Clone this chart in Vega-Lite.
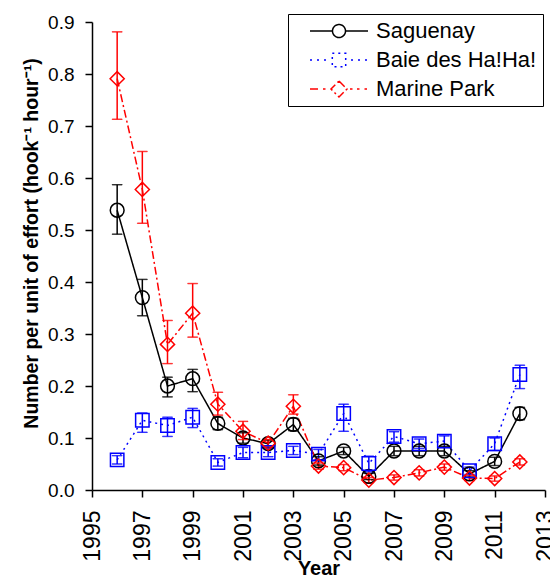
{
  "$schema": "https://vega.github.io/schema/vega-lite/v6.json",
  "width": 453,
  "height": 468,
  "autosize": "none",
  "padding": {"left": 92, "top": 22, "right": 5, "bottom": 89},
  "background": "white",
  "config": {
    "view": {"stroke": null},
    "font": "Liberation Sans",
    "axis": {
      "grid": false,
      "domainColor": "black",
      "domainWidth": 1.5,
      "tickColor": "black",
      "tickWidth": 1.5,
      "tickSize": 7,
      "labelColor": "black",
      "titleColor": "black",
      "labelFont": "Liberation Sans",
      "titleFont": "Liberation Sans",
      "titleFontWeight": "bold"
    }
  },
  "data": {
    "values": [
      {"site": "Saguenay", "year": 1996, "v": 0.538, "lo": 0.492, "hi": 0.587},
      {"site": "Saguenay", "year": 1997, "v": 0.370, "lo": 0.335, "hi": 0.405},
      {"site": "Saguenay", "year": 1998, "v": 0.200, "lo": 0.179, "hi": 0.217},
      {"site": "Saguenay", "year": 1999, "v": 0.214, "lo": 0.189, "hi": 0.232},
      {"site": "Saguenay", "year": 2000, "v": 0.128, "lo": 0.116, "hi": 0.140},
      {"site": "Saguenay", "year": 2001, "v": 0.100, "lo": 0.090, "hi": 0.110},
      {"site": "Saguenay", "year": 2002, "v": 0.089, "lo": 0.082, "hi": 0.096},
      {"site": "Saguenay", "year": 2003, "v": 0.126, "lo": 0.114, "hi": 0.138},
      {"site": "Saguenay", "year": 2004, "v": 0.056, "lo": 0.048, "hi": 0.064},
      {"site": "Saguenay", "year": 2005, "v": 0.075, "lo": 0.068, "hi": 0.082},
      {"site": "Saguenay", "year": 2006, "v": 0.026, "lo": 0.020, "hi": 0.032},
      {"site": "Saguenay", "year": 2007, "v": 0.075, "lo": 0.066, "hi": 0.084},
      {"site": "Saguenay", "year": 2008, "v": 0.075, "lo": 0.066, "hi": 0.084},
      {"site": "Saguenay", "year": 2009, "v": 0.075, "lo": 0.066, "hi": 0.084},
      {"site": "Saguenay", "year": 2010, "v": 0.031, "lo": 0.025, "hi": 0.037},
      {"site": "Saguenay", "year": 2011, "v": 0.055, "lo": 0.047, "hi": 0.063},
      {"site": "Saguenay", "year": 2012, "v": 0.147, "lo": 0.135, "hi": 0.159},
      {"site": "Baie des Ha!Ha!", "year": 1996, "v": 0.058, "lo": 0.050, "hi": 0.066},
      {"site": "Baie des Ha!Ha!", "year": 1997, "v": 0.134, "lo": 0.111, "hi": 0.148},
      {"site": "Baie des Ha!Ha!", "year": 1998, "v": 0.124, "lo": 0.103, "hi": 0.140},
      {"site": "Baie des Ha!Ha!", "year": 1999, "v": 0.140, "lo": 0.120, "hi": 0.157},
      {"site": "Baie des Ha!Ha!", "year": 2000, "v": 0.053, "lo": 0.046, "hi": 0.060},
      {"site": "Baie des Ha!Ha!", "year": 2001, "v": 0.072, "lo": 0.062, "hi": 0.082},
      {"site": "Baie des Ha!Ha!", "year": 2002, "v": 0.072, "lo": 0.064, "hi": 0.080},
      {"site": "Baie des Ha!Ha!", "year": 2003, "v": 0.076, "lo": 0.068, "hi": 0.084},
      {"site": "Baie des Ha!Ha!", "year": 2004, "v": 0.069, "lo": 0.058, "hi": 0.078},
      {"site": "Baie des Ha!Ha!", "year": 2005, "v": 0.147, "lo": 0.113, "hi": 0.165},
      {"site": "Baie des Ha!Ha!", "year": 2006, "v": 0.051, "lo": 0.035, "hi": 0.065},
      {"site": "Baie des Ha!Ha!", "year": 2007, "v": 0.103, "lo": 0.092, "hi": 0.112},
      {"site": "Baie des Ha!Ha!", "year": 2008, "v": 0.089, "lo": 0.080, "hi": 0.098},
      {"site": "Baie des Ha!Ha!", "year": 2009, "v": 0.094, "lo": 0.082, "hi": 0.104},
      {"site": "Baie des Ha!Ha!", "year": 2010, "v": 0.037, "lo": 0.030, "hi": 0.044},
      {"site": "Baie des Ha!Ha!", "year": 2011, "v": 0.089, "lo": 0.076, "hi": 0.100},
      {"site": "Baie des Ha!Ha!", "year": 2012, "v": 0.222, "lo": 0.195, "hi": 0.240},
      {"site": "Marine Park", "year": 1996, "v": 0.791, "lo": 0.713, "hi": 0.881},
      {"site": "Marine Park", "year": 1997, "v": 0.578, "lo": 0.513, "hi": 0.651},
      {"site": "Marine Park", "year": 1998, "v": 0.280, "lo": 0.243, "hi": 0.326},
      {"site": "Marine Park", "year": 1999, "v": 0.340, "lo": 0.294, "hi": 0.397},
      {"site": "Marine Park", "year": 2000, "v": 0.165, "lo": 0.144, "hi": 0.188},
      {"site": "Marine Park", "year": 2001, "v": 0.113, "lo": 0.097, "hi": 0.132},
      {"site": "Marine Park", "year": 2002, "v": 0.090, "lo": 0.083, "hi": 0.097},
      {"site": "Marine Park", "year": 2003, "v": 0.161, "lo": 0.146, "hi": 0.183},
      {"site": "Marine Park", "year": 2004, "v": 0.046, "lo": 0.040, "hi": 0.052},
      {"site": "Marine Park", "year": 2005, "v": 0.043, "lo": 0.037, "hi": 0.049},
      {"site": "Marine Park", "year": 2006, "v": 0.019, "lo": 0.014, "hi": 0.024},
      {"site": "Marine Park", "year": 2007, "v": 0.024, "lo": 0.019, "hi": 0.029},
      {"site": "Marine Park", "year": 2008, "v": 0.033, "lo": 0.027, "hi": 0.039},
      {"site": "Marine Park", "year": 2009, "v": 0.044, "lo": 0.038, "hi": 0.050},
      {"site": "Marine Park", "year": 2010, "v": 0.023, "lo": 0.018, "hi": 0.028},
      {"site": "Marine Park", "year": 2011, "v": 0.022, "lo": 0.017, "hi": 0.027},
      {"site": "Marine Park", "year": 2012, "v": 0.054, "lo": 0.048, "hi": 0.060}
    ]
  },
  "encoding": {
    "x": {
      "field": "year", "type": "quantitative",
      "scale": {"domain": [1995, 2013], "nice": false, "zero": false},
      "axis": {
        "title": "Year", "values": [1995, 1997, 1999, 2001, 2003, 2005, 2007, 2009, 2011, 2013],
        "format": "d", "labelAngle": 270, "labelFontSize": 23, "labelPadding": 13,
        "titleFontSize": 20, "titlePadding": -3
      }
    },
    "color": {
      "field": "site", "type": "nominal",
      "scale": {"domain": ["Saguenay", "Baie des Ha!Ha!", "Marine Park"], "range": ["#000000", "#0000ff", "#ff0000"]},
      "legend": {
        "title": null,
        "orient": "none",
        "legendX": 196,
        "legendY": -8,
        "padding": 6,
        "strokeColor": "black",
        "fillColor": "white",
        "labelFont": "Liberation Sans",
        "labelFontSize": 22,
        "labelColor": "black",
        "labelLimit": 300,
        "labelOffset": 26,
        "symbolOffset": 34,
        "symbolSize": 400,
        "symbolStrokeWidth": 1.5,
        "symbolFillColor": "transparent",
        "symbolOpacity": 1,
        "rowPadding": 7
      }
    }
  },
  "layer": [
    {
      "transform": [{"filter": "datum.site === 'legend only'"}],
      "mark": {"type": "point", "filled": false, "opacity": 1, "strokeWidth": 1.5},
      "encoding": {
        "y": {"field": "v", "type": "quantitative"},
        "shape": {
          "field": "site", "type": "nominal",
          "scale": {
            "domain": ["Saguenay", "Baie des Ha!Ha!", "Marine Park"],
            "range": [
              "M-2.9,0H-0.65M0.65,0H2.9M0.65,0A0.65,0.65,0,1,1,-0.65,0A0.65,0.65,0,1,1,0.65,0Z",
              "M-2.9,0H-2.6M-2.2,0H-1.9M-1.5,0H-1.2M1.2,0H1.5M1.9,0H2.2M2.6,0H2.9M-0.67,-0.67H0.67V0.67H-0.67Z",
              "M-2.9,0H-2.0M-1.6,0H-1.35M1.1,0H1.35M1.8,0H2.05M2.55,0H2.8M0,-0.8L0.8,0L0,0.8L-0.8,0Z"
            ]
          }
        }
      }
    },
    {
      "mark": {"type": "line", "strokeWidth": 1.5},
      "encoding": {
        "y": {
          "field": "v", "type": "quantitative",
          "scale": {"domain": [0, 0.9], "nice": false},
          "axis": {
            "title": "Number per unit of effort (hook⁻¹ hour⁻¹)",
            "values": [0, 0.1, 0.2, 0.3, 0.4, 0.5, 0.6, 0.7, 0.8, 0.9],
            "format": ".1f", "labelFontSize": 19, "labelPadding": 11,
            "titleFontSize": 19.5, "titlePadding": 6, "titleY": 221
          }
        },
        "strokeDash": {
          "field": "site", "type": "nominal",
          "scale": {"domain": ["Saguenay", "Baie des Ha!Ha!", "Marine Park"], "range": [[1, 0], [2, 4], [8, 3, 2, 3]]},
          "legend": null
        }
      }
    },
    {
      "mark": {"type": "rule", "strokeWidth": 1.5},
      "encoding": {
        "y": {"field": "lo", "type": "quantitative"},
        "y2": {"field": "hi"}
      }
    },
    {
      "mark": {"type": "tick", "orient": "horizontal", "size": 10, "thickness": 0.5, "filled": false, "strokeWidth": 1},
      "encoding": {"y": {"field": "lo", "type": "quantitative"}}
    },
    {
      "mark": {"type": "tick", "orient": "horizontal", "size": 10, "thickness": 0.5, "filled": false, "strokeWidth": 1},
      "encoding": {"y": {"field": "hi", "type": "quantitative"}}
    },
    {
      "transform": [{"filter": "datum.site === 'Saguenay'"}],
      "mark": {"type": "point", "shape": "circle", "filled": false, "opacity": 1, "size": 190, "strokeWidth": 1.5},
      "encoding": {"y": {"field": "v", "type": "quantitative"}}
    },
    {
      "transform": [{"filter": "datum.site === 'Baie des Ha!Ha!'"}],
      "mark": {"type": "point", "shape": "square", "filled": false, "opacity": 1, "size": 180, "strokeWidth": 1.5},
      "encoding": {"y": {"field": "v", "type": "quantitative"}}
    },
    {
      "transform": [{"filter": "datum.site === 'Marine Park'"}],
      "mark": {"type": "point", "shape": "diamond", "filled": false, "opacity": 1, "size": 200, "strokeWidth": 1.5},
      "encoding": {"y": {"field": "v", "type": "quantitative"}}
    }
  ]
}
